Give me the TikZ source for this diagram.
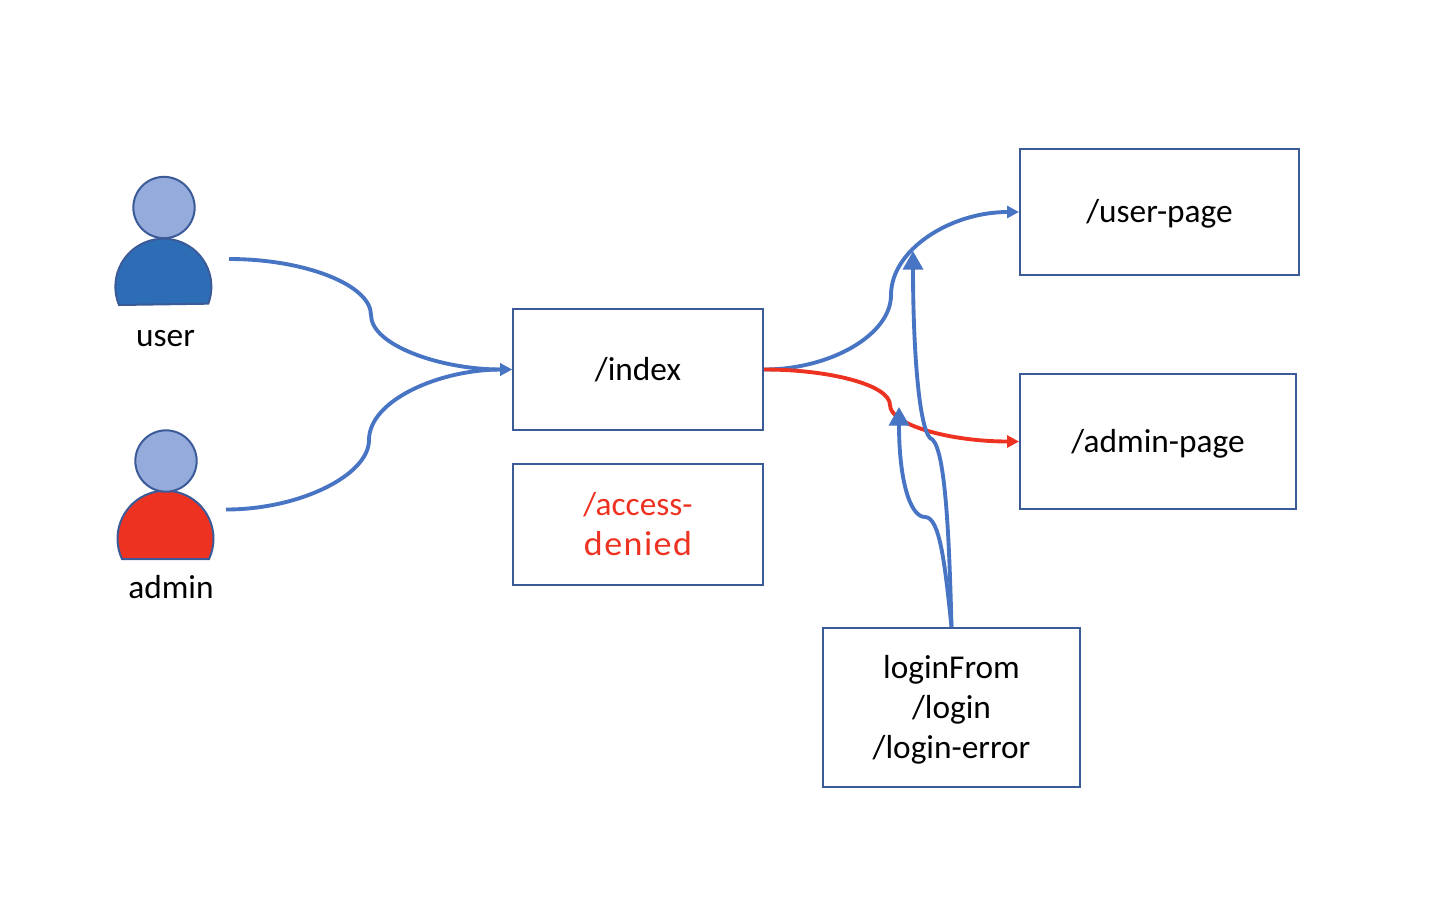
\documentclass[tikz,border=0pt]{standalone}
\usepackage{fontspec}
\setmainfont{Carlito}
\usetikzlibrary{arrows.meta}
\definecolor{boxline}{RGB}{58,90,152}
\definecolor{flowblue}{RGB}{72,116,196}
\definecolor{flowred}{RGB}{238,50,34}
\definecolor{headfill}{RGB}{148,171,219}
\definecolor{userfill}{RGB}{45,109,182}
\tikzset{every picture/.style={line width=0.75pt},
  pagebox/.style={draw=boxline,line width=1.5pt,align=center,inner sep=0.75pt,font=\fontsize{25}{30}\selectfont},
  personhead/.style={circle,draw=boxline,line width=1.5pt,fill=headfill,minimum size=46pt,inner sep=0pt},
  personbody/.style={draw=boxline,line width=1.5pt},
  personlabel/.style={inner sep=0.75pt,font=\fontsize{25}{30}\selectfont},
  flowline/.style={draw=flowblue,line width=2.9pt,-{Triangle[length=9pt,width=9pt]}},
  deniedline/.style={draw=flowred,line width=2.9pt,-{Triangle[length=9pt,width=9pt]}},
  loginline/.style={draw=flowblue,line width=2.9pt,-{Triangle[length=14pt,width=15pt]}}}
\begin{document}
\begin{tikzpicture}[x=0.75pt,y=0.75pt,yscale=-1,xscale=1]
    \useasboundingbox (0,0) rectangle (1434,896);

    %Shape: Rectangle
    \node (index) [pagebox,minimum width=187.5pt,minimum height=90.75pt,text depth=1pt] at (638,369.5) {/index};
    \node (denied) [pagebox,minimum width=187.5pt,minimum height=90.75pt,text=flowred] at (638,524.5) {/access-\\\scalebox{1.08}[1.04]{\addfontfeature{LetterSpace=4}denied}};
    \node (userpage) [pagebox,minimum width=209.25pt,minimum height=94.5pt,text depth=2pt] at (1159.5,212) {/user-page};
    \node (adminpage) [pagebox,minimum width=207pt,minimum height=101.25pt,text depth=1.5pt] at (1158,441.5) {/admin-page};
    \node (login) [pagebox,minimum width=192.75pt,minimum height=119.25pt,text depth=1pt] at (951.5,707.5) {loginFrom\\/login\\/login-error};

    %Shape: Person
    \draw [personbody,fill=userfill] (119,305) arc[start angle=157.6,end angle=380.7,radius=48] -- cycle;
    \node (userhead) [personhead] at (164,207.5) {};
    \draw [personbody,fill=flowred] (122,559) arc[start angle=155,end angle=385,radius=48] -- cycle;
    \node (adminhead) [personhead] at (166,461) {};

    % Text Node
    \node (userlabel) [personlabel] at (165.5,338.5) {user};
    % Text Node
    \node (adminlabel) [personlabel] at (171,587.5) {admin};

    \coordinate (userout) at (229,259);
    \coordinate (adminout) at (226,509.5);

    %Curve Lines
    \draw [flowline] (userout) .. controls (305,259) and (371,285) .. (371,315) .. controls (371,345) and (440,369.5) .. (index.west);
    \draw [flowline] (adminout) .. controls (300,509.5) and (369,475) .. (369,440) .. controls (369,400) and (440,369.5) .. (index.west);
    \draw [flowline] (index.east) .. controls (830,369.5) and (891,335) .. (891,295) .. controls (891,250) and (950,212) .. (userpage.west);
    \draw [deniedline] (index.east) .. controls (830,369.5) and (890,385) .. (890,405) .. controls (890,425) and (950,441.5) .. (adminpage.west);
    \draw [loginline] (login.north) .. controls (949,530) and (945,442) .. (930,438) .. controls (918,425) and (913,340) .. (913,251);
    \draw [loginline] (login.north) .. controls (945,565) and (940,517) .. (925,517) .. controls (910,517) and (899,480) .. (899,407);

\end{tikzpicture}
\end{document}
